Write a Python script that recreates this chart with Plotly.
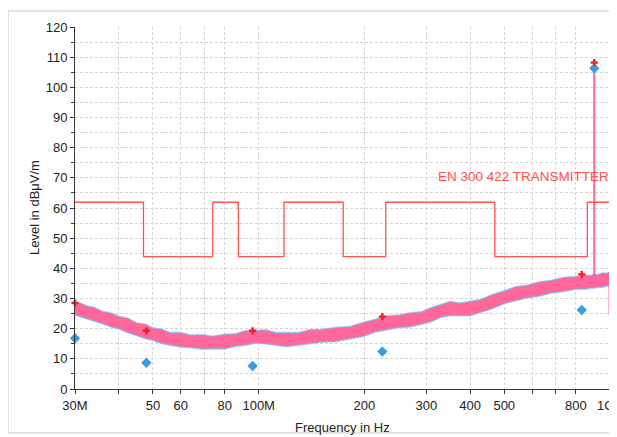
import plotly.graph_objects as go

# ---------------- data ----------------
freq_mhz = [30, 31, 32.5, 34, 36, 38, 40, 42.5, 45, 47.5,
            50, 53, 56, 60, 64, 69, 74, 80, 86, 92,
            98, 105, 112, 120, 130, 140, 150, 165, 182, 200,
            215, 230, 250, 270, 290, 310, 330, 350, 375, 400,
            430, 460, 500, 540, 580, 630, 680, 740, 800, 850,
            880, 900, 920, 950, 980, 998, 1000]

pink_hi = [28.0, 28.3, 27.2, 26.9, 25.4, 25.0, 23.8, 23.2, 21.6, 21.3,
           20.0, 19.6, 18.4, 18.5, 17.6, 17.8, 17.2, 17.9, 18.0, 19.2,
           19.1, 19.4, 18.4, 18.5, 18.4, 19.5, 19.4, 20.2, 20.4, 22.0,
           22.8, 24.1, 24.2, 25.1, 25.3, 26.8, 27.6, 28.8, 28.2, 28.8,
           29.4, 31.0, 32.2, 33.7, 34.1, 35.3, 35.7, 36.8, 37.0, 37.6,
           37.3, 37.9, 37.6, 38.2, 38.1, 38.6, 37.5]

pink_lo = [24.8, 24.2, 23.7, 22.8, 21.9, 20.8, 20.2, 18.9, 18.0, 17.0,
           16.4, 15.3, 14.8, 14.2, 14.0, 13.5, 13.6, 13.6, 14.4, 14.8,
           15.5, 15.2, 14.8, 14.3, 14.8, 15.2, 15.8, 16.0, 16.8, 17.8,
           19.2, 19.9, 20.6, 20.9, 21.7, 22.6, 24.0, 24.6, 24.6, 24.6,
           25.8, 26.8, 28.6, 29.5, 30.5, 31.1, 32.1, 32.6, 33.4, 33.4,
           33.7, 33.7, 34.0, 34.0, 34.5, 34.4, 24.5]

blue_hi = [28.3, 28.6, 27.6, 27.2, 25.8, 25.3, 24.2, 23.5, 22.0, 21.6,
           20.4, 19.9, 18.8, 18.8, 18.0, 18.1, 17.6, 18.2, 18.4, 19.5,
           19.5, 19.7, 18.8, 18.8, 18.8, 19.8, 19.8, 20.5, 20.8, 22.3,
           23.2, 24.4, 24.6, 25.4, 25.7, 27.1, 28.0, 29.1, 28.6, 29.1,
           29.8, 31.3, 32.6, 34.0, 34.5, 35.6, 36.1, 37.1, 37.4, 37.9,
           37.7, 38.2, 38.0, 38.5, 38.5, 38.9, 37.8]

blue_lo = [24.4, 23.8, 23.2, 22.4, 21.5, 20.4, 19.8, 18.5, 17.6, 16.6,
           16.0, 14.9, 14.4, 13.8, 13.6, 13.1, 13.2, 13.2, 14.0, 14.4,
           15.1, 14.8, 14.4, 13.9, 14.4, 14.8, 15.4, 15.6, 16.4, 17.4,
           18.8, 19.5, 20.2, 20.5, 21.3, 22.2, 23.6, 24.2, 24.2, 24.2,
           25.4, 26.4, 28.2, 29.1, 30.1, 30.7, 31.7, 32.2, 33.0, 33.0,
           33.3, 33.3, 33.6, 33.6, 34.1, 34.0, 24.2]

spike_mhz = [902, 902]
spike_level = [36.0, 107.6]

end_drop_mhz = [1000, 1000]
end_drop_level = [35.0, 24.5]

peak_mhz = [30.0, 47.9, 96.1, 224.9, 831, 902]
peak_level = [28.5, 19.3, 19.3, 24.0, 38.0, 108.2]
avg_level = [16.8, 8.7, 7.6, 12.4, 26.2, 106.3]

limit_mhz = [30, 47, 74, 87.5, 118, 174, 230, 470, 862, 1000, 1000]
limit_level = [61.9, 43.9, 61.9, 43.9, 61.9, 43.9, 61.9, 43.9, 61.9, 61.9, 67.9]
limit_name = "EN 300 422 TRANSMITTER"

tick_mhz = [30, 40, 50, 60, 70, 80, 100, 200, 300, 400, 500, 600, 700, 800, 1000]
tick_text = ["30M", "", "50", "60", "", "80", "100M", "200", "300", "400", "500", "", "", "800", ""]
last_tick_label = "1G"   # drawn separately so it stays inside the page

y_ticks = list(range(0, 121, 10))

# ---------------- figure ----------------
FONT = "Liberation Sans, Arial, sans-serif"
PINK = "#ff6699"
BLUE = "#80bdf5"
LIMIT = "#ff5252"
TXT = "#222222"

hz = lambda arr: [v * 1e6 for v in arr]

fig = go.Figure()

# blue band (behind)
fig.add_trace(go.Scatter(
    x=hz(freq_mhz) + hz(freq_mhz[::-1]),
    y=blue_hi + blue_lo[::-1],
    fill="toself", fillcolor=BLUE, mode="lines",
    line=dict(color=BLUE, width=0.5), hoverinfo="skip", showlegend=False))

# pink band
fig.add_trace(go.Scatter(
    x=hz(freq_mhz) + hz(freq_mhz[::-1]),
    y=pink_hi + pink_lo[::-1],
    fill="toself", fillcolor=PINK, mode="lines",
    line=dict(color=PINK, width=0.5), hoverinfo="skip", showlegend=False))

# spike and end drop
fig.add_trace(go.Scatter(
    x=hz(spike_mhz), y=spike_level, mode="lines",
    line=dict(color=PINK, width=2), showlegend=False))
fig.add_trace(go.Scatter(
    x=hz(end_drop_mhz), y=end_drop_level, mode="lines",
    line=dict(color=PINK, width=3), showlegend=False))

# limit line
fig.add_trace(go.Scatter(
    x=hz(limit_mhz), y=limit_level, mode="lines", line_shape="hv",
    line=dict(color=LIMIT, width=1.3), showlegend=False, cliponaxis=False))

# average markers (blue diamonds)
fig.add_trace(go.Scatter(
    x=hz(peak_mhz), y=avg_level, mode="markers",
    marker=dict(symbol="diamond", size=8, color="#3d9be0"),
    showlegend=False, cliponaxis=False))

# peak markers (red)
fig.add_trace(go.Scatter(
    x=hz(peak_mhz), y=peak_level, mode="markers",
    marker=dict(symbol="cross", size=6, color="#ff1a1a"),
    showlegend=False, cliponaxis=False))

grid = dict(gridcolor="#d6d6d6", griddash="3px,2px", gridwidth=1)

fig.update_xaxes(
    type="log", range=[7.4771, 9.0],
    tickvals=hz(tick_mhz), ticktext=tick_text,
    automargin=False,
    showline=True, linecolor="#333333", linewidth=1,
    ticks="outside", ticklen=4, tickcolor="#333333",
    tickfont=dict(family=FONT, size=13, color=TXT),
    showgrid=True, zeroline=False, **grid)

fig.update_yaxes(
    range=[0, 120], tickvals=y_ticks, automargin=False,
    showline=True, linecolor="#333333", linewidth=1,
    ticks="outside", ticklen=4, tickcolor="#333333",
    tickfont=dict(family=FONT, size=13, color=TXT),
    showgrid=True, zeroline=False,
    minor=dict(dtick=5, showgrid=True, ticks="outside", ticklen=3,
               tickcolor="#333333", gridcolor="#d6d6d6", griddash="3px,2px"),
    **grid)

# the page body adds an 8px offset, so the figure is sized/margined to compensate
fig.update_layout(
    width=609, height=429,
    margin=dict(l=67, r=7, t=19, b=48, autoexpand=False),
    paper_bgcolor="white", plot_bgcolor="white",
    font=dict(family=FONT, size=13, color=TXT),
    showlegend=False,
    shapes=[dict(type="rect", xref="paper", yref="paper",
                 x0=-0.1252, x1=1.3, y0=-0.1215, y1=1.0442,
                 line=dict(color="#c8c8c8", width=1), layer="below")],
    annotations=[
        dict(text=limit_name, xref="paper", x=1.002, xanchor="right",
             yref="y", y=70.3, yanchor="middle", showarrow=False,
             font=dict(family=FONT, size=13.5, color=LIMIT)),
        dict(text=last_tick_label, xref="paper", x=1.0105, xanchor="right",
             yref="paper", y=-0.045, yanchor="middle", showarrow=False,
             font=dict(family=FONT, size=13, color=TXT)),
        dict(text="Frequency in Hz", xref="paper", x=0.5, xanchor="center",
             yref="paper", y=-0.105, yanchor="middle", showarrow=False,
             font=dict(family=FONT, size=13, color=TXT)),
        dict(text="Level in dBμV/m", xref="paper", x=-0.0766, xanchor="center",
             yref="paper", y=0.5, yanchor="middle", textangle=-90, showarrow=False,
             font=dict(family=FONT, size=13, color=TXT)),
    ],
)

fig.write_html("out.html")
